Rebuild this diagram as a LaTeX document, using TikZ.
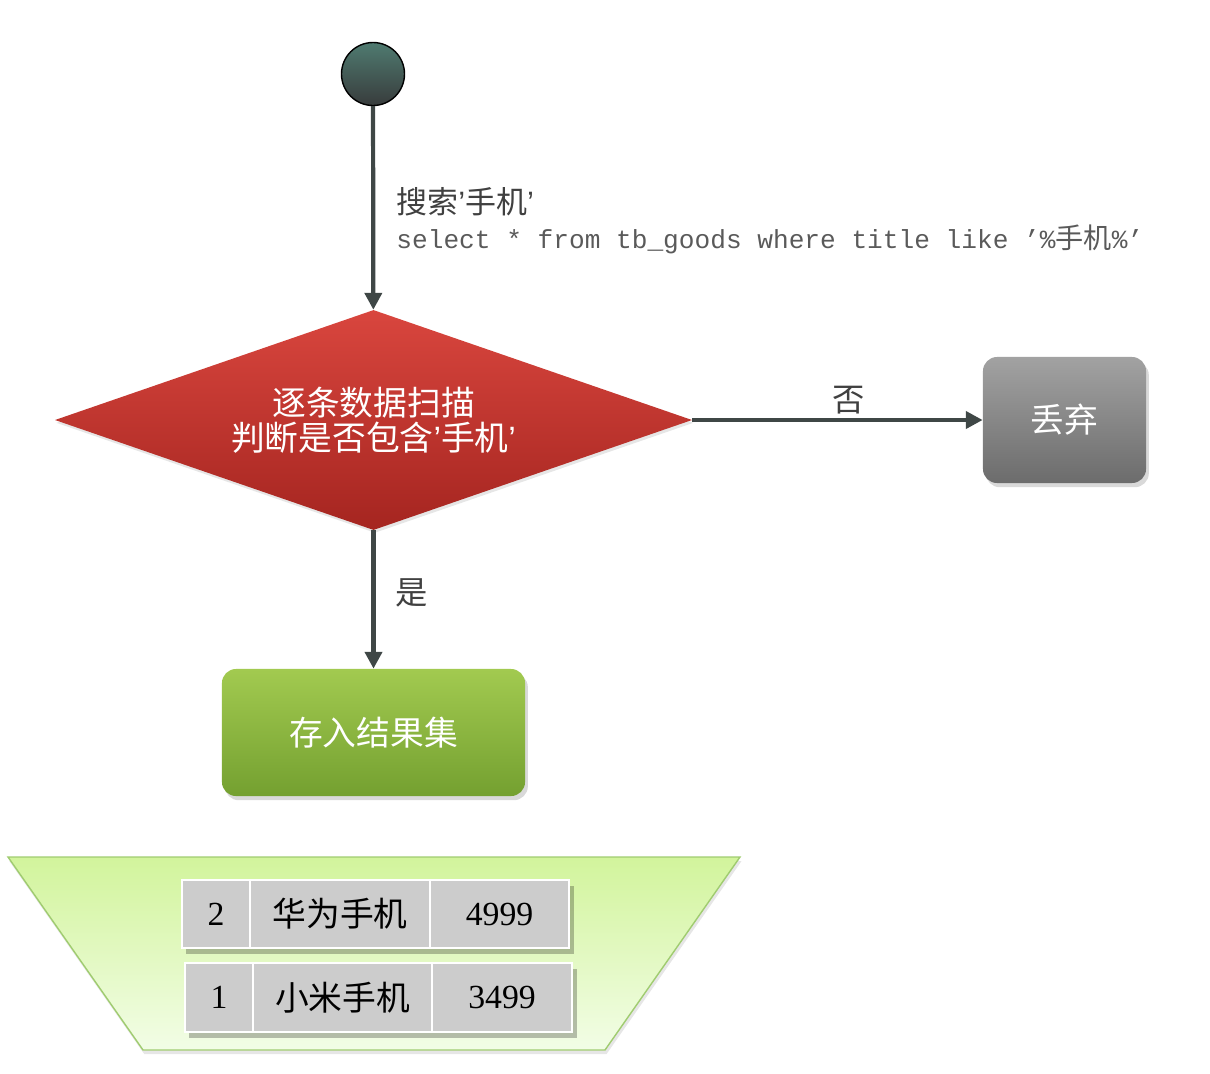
\documentclass[tikz,border=0pt]{standalone}
\usepackage{fontspec}
\setmainfont{Noto Sans CJK SC}
\newfontfamily\cjkf{Noto Sans CJK SC}
\newfontfamily\codef{Liberation Mono}
\newfontfamily\numf{Liberation Serif}
\newfontfamily\latf{Liberation Sans}
\usetikzlibrary{shapes.geometric,shadows,arrows.meta}
\definecolor{linec}{HTML}{3F4746}
\definecolor{labc}{HTML}{404040}
\definecolor{codec}{HTML}{5A5A5A}
\definecolor{circtop}{HTML}{4F7A70}
\definecolor{circbot}{HTML}{383C3C}
\definecolor{redtop}{HTML}{D9463E}
\definecolor{redbot}{HTML}{A52520}
\definecolor{graytop}{HTML}{A2A2A2}
\definecolor{graybot}{HTML}{6C6C6C}
\definecolor{greentop}{HTML}{A2CA50}
\definecolor{greenbot}{HTML}{74A030}
\definecolor{traptop}{HTML}{D2F49C}
\definecolor{trapbot}{HTML}{F2FDE6}
\definecolor{trapline}{HTML}{A0CC70}
\definecolor{cellc}{HTML}{CCCCCC}
\newcommand{\fsz}[1]{\fontsize{#1}{1.2\dimexpr#1\relax}\selectfont}
\newcommand{\q}{{\latf ’}}
\begin{document}
\begin{tikzpicture}[x=0.025cm,y=-0.025cm,
  flow/.style={draw=linec,line width=3pt,-{Triangle[length=12pt,width=12pt]}},
  boxsty/.style={rectangle,rounded corners=10pt,text=white,font=\cjkf\fsz{24pt},
     drop shadow={shadow xshift=2pt,shadow yshift=-3pt,opacity=0.3}},
  lab/.style={text=labc,font=\cjkf\fsz{23pt},inner sep=0pt},
  cell/.style={rectangle,draw=white,line width=1.5pt,fill=cellc,text=black,inner sep=0pt}
]
\useasboundingbox (0,0) rectangle (1210,1073);

% start
\node (start) [circle,draw=black,line width=1pt,minimum size=1.575cm,inner sep=0pt,
   top color=circtop,bottom color=circbot] at (373,74) {};

% decision
\node (dec) [diamond,aspect=2.9,inner sep=0pt,minimum width=15.925cm,minimum height=5.5cm,
   top color=redtop,bottom color=redbot,text=white,align=center,
   font=\cjkf\fsz{24pt},drop shadow={shadow xshift=1pt,shadow yshift=-2pt,opacity=0.2}]
   at (373.5,420) {逐条数据扫描\\[-4pt]判断是否包含\q 手机\q};

% discard
\node (discard) [boxsty,minimum width=4.075cm,minimum height=3.15cm,
   top color=graytop,bottom color=graybot] at (1064.5,420) {丢弃};

% store
\node (store) [boxsty,minimum width=7.575cm,minimum height=3.175cm,
   top color=greentop,bottom color=greenbot] at (373.5,732.5) {存入结果集};

% connectors
\draw[flow] (start) -- (dec)
   node[pos=0.47,anchor=west,xshift=15pt,lab,font=\cjkf\fsz{22pt}] (q1) {搜索\q 手机\q}
   node[pos=0.655,anchor=west,xshift=15pt,inner sep=0pt,text=codec,font=\codef\fsz{18.6pt}] (q2)
      {select * from tb\_goods where title like ’\%{\cjkf\fsz{20pt}手机}\%’};
\draw[flow] (dec) -- (discard) node[pos=0.54,above=3pt,lab] (no) {否};
\draw[flow] (dec) -- (store) node[pos=0.45,right=14pt,lab] (yes) {是};

% result set container
\path[draw=trapline,line width=1pt,top color=traptop,bottom color=trapbot,
   drop shadow={shadow xshift=1pt,shadow yshift=-3pt,opacity=0.2}]
   (8,857) -- (740,857) -- (605,1050) -- (143,1050) -- cycle;

% table rows
\fill[black,opacity=0.25] (186,886) rectangle (574,954);
\fill[black,opacity=0.25] (189,969) rectangle (577,1038);
\node (r1a) [cell,minimum width=1.7cm,minimum height=1.7cm,font=\numf\fsz{24pt}] at (216,914) {2};
\node (r1b) [cell,minimum width=4.5cm,minimum height=1.7cm,font=\cjkf\fsz{24pt}] at (340,914) {华为手机};
\node (r1c) [cell,minimum width=3.475cm,minimum height=1.7cm,font=\numf\fsz{24pt}] at (499.5,914) {4999};
\node (r2a) [cell,minimum width=1.7cm,minimum height=1.725cm,font=\numf\fsz{24pt}] at (219,997.5) {1};
\node (r2b) [cell,minimum width=4.475cm,minimum height=1.725cm,font=\cjkf\fsz{24pt}] at (342.5,997.5) {小米手机};
\node (r2c) [cell,minimum width=3.5cm,minimum height=1.725cm,font=\numf\fsz{24pt}] at (502,997.5) {3499};
\end{tikzpicture}
\end{document}
